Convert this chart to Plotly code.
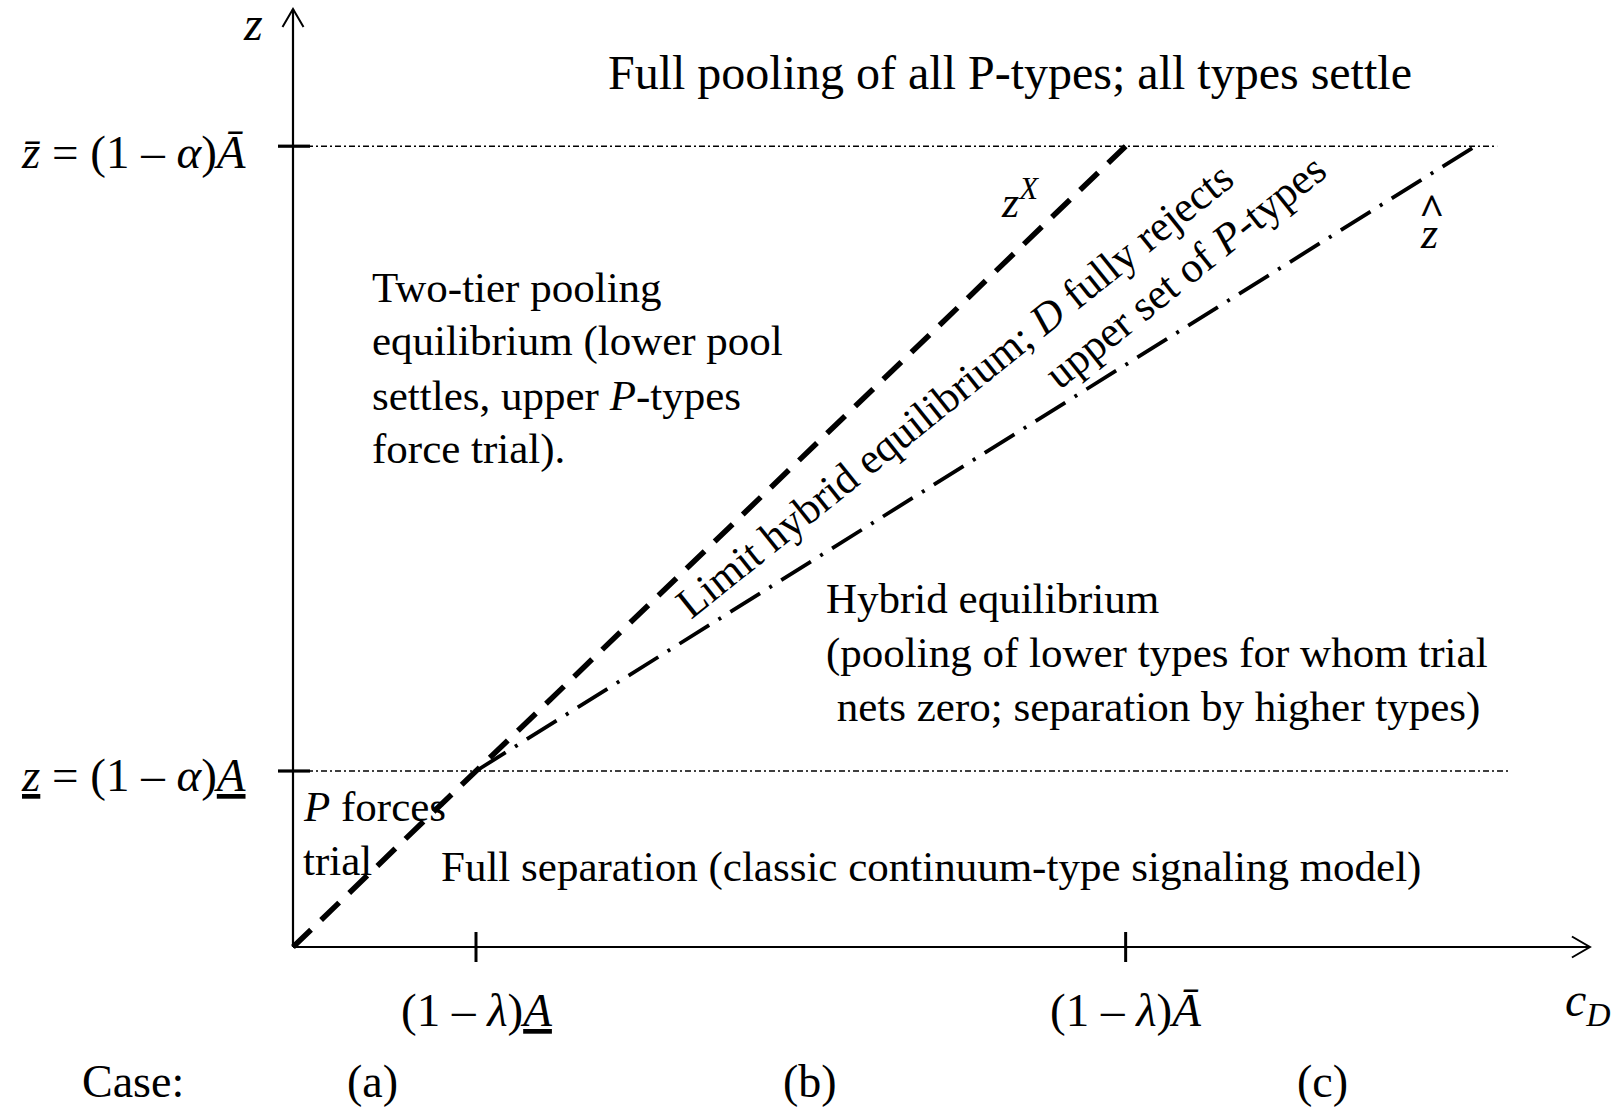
import plotly.graph_objects as go

# ---------------- data (normalised units: (1-λ)A_ = (1-α)A_ = 1) ----------------
c_ticks = [1.0, 4.55]                       # (1-λ)A_ , (1-λ)Ā
c_tick_labels = ["(1 – <i>λ</i>)<u><i>A</i></u>", "(1 – <i>λ</i>)<i>Ā</i>"]
z_levels = [1.0, 4.55]                      # z_ , z̄
z_level_labels = ["<u><i>z</i></u> = (1 – <i>α</i>)<u><i>A</i></u>",
                  "<i>z\u0304</i> = (1 – <i>α</i>)<i>Ā</i>"]
z_level_line_end = [6.65, 6.58]
zX_c = [0.0, 4.55]                          # z^X boundary
zX_z = [0.0, 4.55]
zhat_c = [1.0, 6.46]                        # ẑ boundary
zhat_z = [1.0, 4.55]
x_axis_end = 7.087
y_axis_end = 5.33
case_labels = ["Case:", "(a)", "(b)", "(c)"]
case_x = [-0.874, 0.432, 2.825, 5.628]

two_tier_lines = ["Two-tier pooling", "equilibrium (lower pool",
                  "settles, upper <i>P</i>-types", "force trial)."]
p_forces_lines = ["<i>P</i> forces", "trial"]
hybrid_lines = ["Hybrid equilibrium", "(pooling of lower types for whom trial",
                "\u00a0nets zero; separation by higher types)"]

# ---------------- layout helpers ----------------
W, H = 1622, 1107
PX_X, PX_Y = 183.0, 176.0          # pixels per unit
X0, Y0 = 293.0, 947.0              # pixel position of origin
xr = [-X0 / PX_X, (W - X0) / PX_X]
yr = [-(H - Y0) / PX_Y, Y0 / PX_Y]
FONT = "Liberation Serif, Times New Roman, serif"
BLACK = "#000000"
BODY = 43
LINE_PX = 54

fig = go.Figure()

def line(xs, ys, width=2, dash="solid", color=BLACK):
    fig.add_trace(go.Scatter(x=xs, y=ys, mode="lines",
                             line=dict(color=color, width=width, dash=dash),
                             hoverinfo="skip", showlegend=False))

# horizontal dash-dot guide lines
for z, xe in zip(z_levels, z_level_line_end):
    line([0, xe], [z, z], width=1.4, dash="6px,3px,2px,3px")

# z^X dashed line and ẑ dash-dot line
line(zX_c, zX_z, width=5.5, dash="25px,14px")
line(zhat_c, zhat_z, width=3.8, dash="35px,11px,3px,11px")

# axes
line([0, x_axis_end], [0, 0], width=2.2)
line([0, 0], [0, y_axis_end], width=2.2)
# arrow heads (open chevrons)
ah_len, ah_half = 18, 10.5
line([x_axis_end - ah_len / PX_X, x_axis_end, x_axis_end - ah_len / PX_X],
     [ah_half / PX_Y, 0, -ah_half / PX_Y], width=2)
line([-ah_half / PX_X, 0, ah_half / PX_X],
     [y_axis_end - ah_len / PX_Y, y_axis_end, y_axis_end - ah_len / PX_Y], width=2)

# ticks
for c in c_ticks:
    line([c, c], [15 / PX_Y, -15 / PX_Y], width=3)
for z in z_levels:
    line([-15 / PX_X, 17 / PX_X], [z, z], width=3.2)

ann = []
def text(x, y, s, size=BODY, xanchor="center", yanchor="middle", align="center",
         angle=0, xshift=0, yshift=0):
    ann.append(dict(x=x, y=y, xref="x", yref="y", text=s, showarrow=False,
                    font=dict(family=FONT, size=size, color=BLACK),
                    xanchor=xanchor, yanchor=yanchor, align=align,
                    textangle=angle, xshift=xshift, yshift=yshift))

def block(x, y_first, lines, size=BODY):
    for i, s in enumerate(lines):
        text(x, y_first, s, size=size, xanchor="left", align="left",
             yshift=-i * LINE_PX)

# axis labels
text(0, y_axis_end, "<i>z</i>", size=48, xshift=-40, yshift=-15)
text(x_axis_end, 0, "<i>c</i><sub><i>D</i></sub>", size=48, xshift=-2, yshift=-56)
for c, s in zip(c_ticks, c_tick_labels):
    text(c, 0, s, size=47, yshift=-63)
for z, s in zip(z_levels, z_level_labels):
    text(0, z, s, size=47, xanchor="right", xshift=-45, yshift=-6 if z > 2 else -4)
for cx, s in zip(case_x, case_labels):
    text(cx, -0.78, s, size=46, yshift=3)

# region labels
text(3.92, 4.97, "Full pooling of all P-types; all types settle", size=48)
block(0.421, 3.75, two_tier_lines)
block(0.044, 0.80, p_forces_lines)
text(3.486, 0.455, "Full separation (classic continuum-type signaling model)")
block(2.90, 1.98, hybrid_lines)
text(3.585, 3.21, "Limit hybrid equilibrium; <i>D</i> fully rejects", angle=-38.7,
     xshift=5, yshift=-8)
text(4.858, 3.87, "upper set of <i>P</i>-types", angle=-38.7, xshift=3, yshift=-6)
text(3.97, 4.25, "<i>z</i><sup><i>X</i></sup>", size=44)
text(6.21, 4.045, "<i>z</i>", size=44, yshift=2)
text(6.225, 4.215, "<b>^</b>", size=44, yshift=-4)

fig.update_layout(
    width=W, height=H, margin=dict(l=0, r=0, t=0, b=0),
    paper_bgcolor="white", plot_bgcolor="white",
    xaxis=dict(range=xr, visible=False, fixedrange=True),
    yaxis=dict(range=yr, visible=False, fixedrange=True),
    annotations=ann, showlegend=False,
)

fig.write_html("out.html", config={"displayModeBar": False},
               post_script="document.body.style.margin='0';document.body.style.overflow='hidden';")
